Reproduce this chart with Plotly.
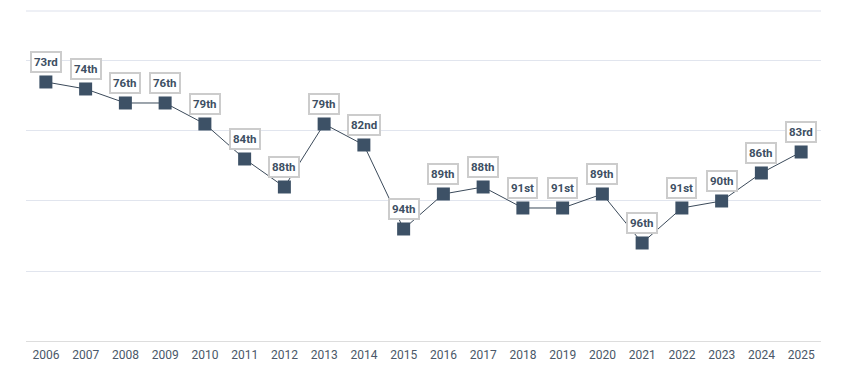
import plotly.graph_objects as go

years = list(range(2006, 2026))
ranks = [73, 74, 76, 76, 79, 84, 88, 79, 82, 94, 89, 88, 91, 91, 89, 96, 91, 90, 86, 83]
rank_labels = ["73rd", "74th", "76th", "76th", "79th", "84th", "88th", "79th", "82nd", "94th",
               "89th", "88th", "91st", "91st", "89th", "96th", "91st", "90th", "86th", "83rd"]
grid_vals = [70, 80, 90, 100]

# page body has an 8px margin; figure sized to fit inside the viewport
W, H = 826, 368
mt, mb, ml, mr = 3, 35, 18, 13

fig = go.Figure()
fig.add_trace(go.Scatter(
    x=years, y=ranks, mode="lines+markers",
    line=dict(color="#3b4a5a", width=1),
    marker=dict(symbol="square", size=13, color="#3d5166"),
    hoverinfo="skip", showlegend=False,
))

for x, y, t in zip(years, ranks, rank_labels):
    fig.add_annotation(
        x=x, y=y, text="<b>%s</b>" % t, showarrow=False, yshift=20,
        font=dict(family="Roboto, sans-serif", size=11.5, color="#3d4f63"),
        bgcolor="white", bordercolor="#cccccc", borderwidth=2, borderpad=2,
    )

# top boundary line
fig.add_shape(type="line", xref="paper", yref="paper", x0=0, x1=1, y0=1, y1=1,
              line=dict(color="#dde1ec", width=1))

fig.update_layout(
    width=W, height=H,
    margin=dict(l=ml, r=mr, t=mt, b=mb, autoexpand=False),
    paper_bgcolor="white", plot_bgcolor="white",
    xaxis=dict(range=[2005.5, 2025.5], tickmode="array", tickvals=years,
               ticktext=[str(y) for y in years],
               showgrid=False, showline=True, linecolor="#dddddd",
               linewidth=1, ticks="outside", ticklen=3, tickcolor="rgba(0,0,0,0)",
               zeroline=False, automargin=False,
               tickfont=dict(family="Roboto, sans-serif", size=12, color="#4a5868")),
    yaxis=dict(range=[110, 62.86], tickvals=grid_vals, showticklabels=False,
               showgrid=True, gridcolor="#e1e5ee", gridwidth=1, zeroline=False,
               automargin=False),
)

fig.write_html("out.html")
